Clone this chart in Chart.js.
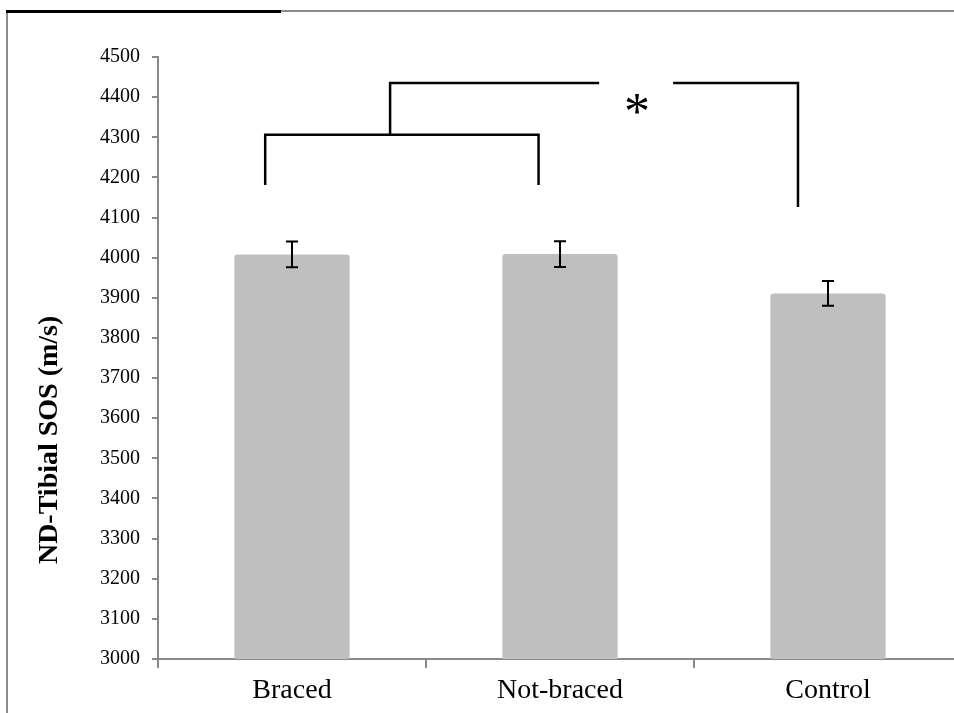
<!DOCTYPE html>
<html>
<head>
<meta charset="utf-8">
<script src="https://cdn.jsdelivr.net/npm/chart.js@4.4.1/dist/chart.umd.min.js"></script>
<style>
  html, body { margin: 0; padding: 0; background: #fff; overflow: hidden; }
  #wrap { position: relative; width: 954px; height: 713px; overflow: hidden; }
  #chart { position: absolute; left: 0; top: 0; }
  .frame-left { position: absolute; left: 6px; top: 10px; width: 2px; height: 703px; background: #8c8c8c; }
  .frame-top { position: absolute; left: 6px; top: 10px; width: 948px; height: 2px; background: #8c8c8c; }
  .frame-black { position: absolute; left: 6px; top: 10px; width: 275px; height: 3px; background: #000; }
</style>
</head>
<body>
<div id="wrap">
  <canvas id="chart" width="970" height="713"></canvas>
  <div class="frame-top"></div>
  <div class="frame-left"></div>
  <div class="frame-black"></div>
</div>
<script>
// data
var categories = ['Braced', 'Not-braced', 'Control'];
var sosMeans = [4008, 4009, 3911];
var sosErrors = [32, 32, 31];
var yTicks = [3000, 3100, 3200, 3300, 3400, 3500, 3600, 3700, 3800, 3900, 4000, 4100, 4200, 4300, 4400, 4500];
var yTitle = 'ND-Tibial SOS (m/s)';
var yTitleCenter = 3546; // the title sits low, not centred on the axis

// significance brackets, in (category index, value) units
var bracketLow = [[-0.10, 4181], [-0.10, 4306], [0.92, 4306], [0.92, 4181]];
var bracketHighLeft = [[0.366, 4306], [0.366, 4435], [1.146, 4435]];
var bracketHighRight = [[1.422, 4435], [1.888, 4435], [1.888, 4126]];
var starPos = [1.287, 4385];

var errorBars = {
  id: 'errorBars',
  afterDatasetsDraw: function(chart) {
    var ctx = chart.ctx;
    var y = chart.scales.y;
    var meta = chart.getDatasetMeta(0);
    ctx.save();
    ctx.strokeStyle = '#000';
    ctx.lineWidth = 2;
    meta.data.forEach(function(bar, i) {
      var top = y.getPixelForValue(sosMeans[i] + sosErrors[i]);
      var bot = y.getPixelForValue(sosMeans[i] - sosErrors[i]);
      ctx.beginPath();
      ctx.moveTo(bar.x, top); ctx.lineTo(bar.x, bot);
      ctx.moveTo(bar.x - 6, top); ctx.lineTo(bar.x + 6, top);
      ctx.moveTo(bar.x - 6, bot); ctx.lineTo(bar.x + 6, bot);
      ctx.stroke();
    });
    ctx.restore();
  }
};

var brackets = {
  id: 'brackets',
  afterDraw: function(chart) {
    var ctx = chart.ctx;
    var xs = chart.scales.x, ys = chart.scales.y;
    function line(pts) {
      ctx.beginPath();
      pts.forEach(function(p, k) {
        var px = xs.getPixelForValue(p[0]), py = ys.getPixelForValue(p[1]);
        if (k == 0) ctx.moveTo(px, py); else ctx.lineTo(px, py);
      });
      ctx.stroke();
    }
    ctx.save();
    ctx.strokeStyle = '#000';
    ctx.lineWidth = 2.5;
    ctx.lineJoin = 'miter';
    line(bracketLow);
    line(bracketHighLeft);
    line(bracketHighRight);
    ctx.fillStyle = '#000';
    ctx.font = '52px "Liberation Serif"';
    ctx.textAlign = 'center';
    ctx.textBaseline = 'middle';
    ctx.fillText('*', xs.getPixelForValue(starPos[0]), ys.getPixelForValue(starPos[1]) + 12);

    // y axis title
    ctx.translate(50, ys.getPixelForValue(yTitleCenter));
    ctx.rotate(-Math.PI / 2);
    ctx.font = 'bold 28px "Liberation Serif"';
    ctx.fillText(yTitle, 0, 0);
    ctx.restore();
  }
};

var ctx = document.getElementById('chart').getContext('2d');
var sosChart = new Chart(ctx, {
  type: 'bar',
  data: {
    labels: categories,
    datasets: [{
      data: sosMeans,
      backgroundColor: '#bfbfbf',
      borderRadius: 3,
      borderSkipped: 'bottom',
      barPercentage: 0.43,
      categoryPercentage: 1.0
    }]
  },
  options: {
    responsive: false,
    animation: false,
    layout: { padding: { top: 57, right: 8, left: 0, bottom: 0 } },
    plugins: { legend: { display: false }, tooltip: { enabled: false } },
    scales: {
      x: {
        afterFit: function(s) { s.height = 54; },
        grid: { display: true, offset: true, drawOnChartArea: false, drawTicks: true, tickLength: 9, color: '#898989', lineWidth: 2 },
        border: { display: true, color: '#898989', width: 2 },
        ticks: { color: '#000', font: { family: 'Liberation Serif', size: 28 }, padding: 6 }
      },
      y: {
        min: 3000,
        max: 4500,
        afterFit: function(s) { s.width = 158; },
        afterBuildTicks: function(s) { s.ticks = yTicks.map(function(v) { return { value: v }; }); },
        grid: { display: true, drawOnChartArea: false, drawTicks: true, tickLength: 6, color: '#898989', lineWidth: 2 },
        border: { display: true, color: '#898989', width: 2 },
        ticks: {
          color: '#000',
          font: { family: 'Liberation Serif', size: 20 },
          padding: 12,
          callback: function(v) { return String(v); }
        }
      }
    }
  },
  plugins: [errorBars, brackets]
});
</script>
</body>
</html>
